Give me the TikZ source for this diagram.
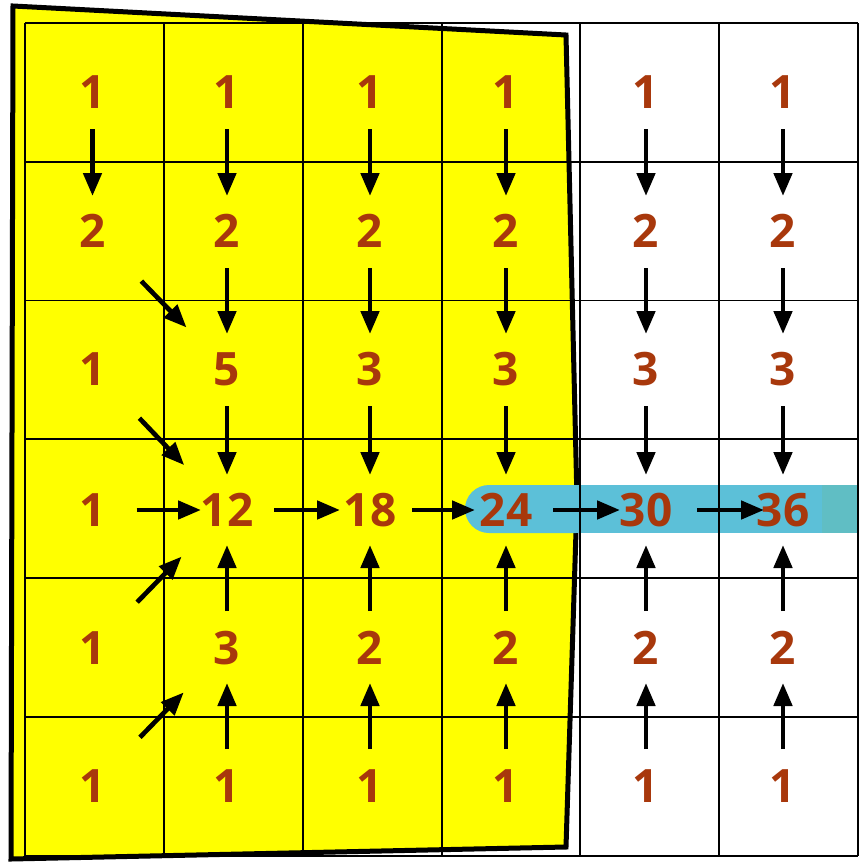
\documentclass[tikz,border=0pt]{standalone}
\usepackage{fontspec}
\setmainfont{Open Sans}
\usetikzlibrary{arrows.meta}
\definecolor{numc}{RGB}{168,56,12}
\definecolor{barc}{RGB}{92,192,216}
\definecolor{barend}{RGB}{96,190,196}
\definecolor{fillyel}{RGB}{255,255,0}
\begin{document}
\begin{tikzpicture}[x=1pt,y=-1pt,
  num/.style={text=numc,font=\fontsize{46}{46}\selectfont\bfseries,inner sep=0pt},
  arr/.style={line width=4.7pt,-{Triangle[length=23pt,width=18pt]}},
  varr/.style={arr,shorten <=37pt,shorten >=35pt},
  gridline/.style={line width=1.8pt,black}]
\useasboundingbox (0,0) rectangle (859,863);
% yellow region
\fill[fillyel] (13,6) -- (300,21) -- (566,35) -- (577,500) -- (566,847) -- (11,859) -- cycle;
\draw[line width=5pt,line join=miter] (13,6) -- (300,21) -- (566,35) -- (577,500) -- (566,847) -- (11,859) -- cycle;
% highlight bar
\fill[barc,rounded corners=24pt] (465,485) rectangle (600,533);
\fill[barc] (520,485) rectangle (859,533);
\fill[barend] (822,485) rectangle (859,533);
% grid
\foreach \x in {25,164,303,442,580,719,858} \draw[gridline] (\x,23) -- (\x,856);
\foreach \y in {23,162,300.5,439,578,717,856} \draw[gridline] (25,\y) -- (858,\y);
% numbers
\foreach \r/\y/\a/\b/\c/\d/\e/\f in {
  1/92/1/1/1/1/1/1,
  2/231/2/2/2/2/2/2,
  3/369/1/5/3/3/3/3,
  4/510/1/12/18/24/30/36,
  5/648/1/3/2/2/2/2,
  6/786/1/1/1/1/1/1}{
  \node[num] (n\r1) at (92.5,\y) {\a};
  \node[num] (n\r2) at (227,\y) {\b};
  \node[num] (n\r3) at (370,\y) {\c};
  \node[num] (n\r4) at (506,\y) {\d};
  \node[num] (n\r5) at (646,\y) {\e};
  \node[num] (n\r6) at (783,\y) {\f};
}
% vertical arrows
\draw[varr] (n11.center) -- (n21.center);
\foreach \c in {2,...,6}{
  \draw[varr] (n1\c.center) -- (n2\c.center);
  \draw[varr] (n2\c.center) -- (n3\c.center);
  \draw[varr] (n3\c.center) -- (n4\c.center);
  \draw[varr] (n6\c.center) -- (n5\c.center);
  \draw[varr] (n5\c.center) -- (n4\c.center);
}
% horizontal arrows
\draw[arr,shorten <=44pt,shorten >=26pt] (n41.center) -- (n42.center);
\draw[arr,shorten <=47pt,shorten >=30pt] (n42.center) -- (n43.center);
\draw[arr,shorten <=42pt,shorten >=31pt] (n43.center) -- (n44.center);
\draw[arr,shorten <=47pt,shorten >=26pt] (n44.center) -- (n45.center);
\draw[arr,shorten <=51pt,shorten >=19pt] (n45.center) -- (n46.center);
% diagonal arrows
\draw[arr,shorten <=70pt,shorten >=58pt] (n21.center) -- (n32.center);
\draw[arr,shorten <=68pt,shorten >=62pt] (n31.center) -- (n42.center);
\draw[arr,shorten <=64pt,shorten >=65pt] (n51.center) -- (n42.center);
\draw[arr,shorten <=68pt,shorten >=62pt] (n61.center) -- (n52.center);
\end{tikzpicture}
\end{document}
